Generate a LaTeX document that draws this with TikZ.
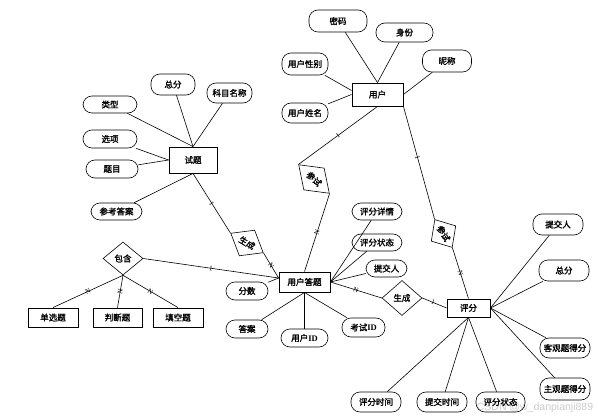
\documentclass[tikz,border=0pt]{standalone}
\usepackage{fontspec}
\setmainfont{Liberation Serif}
\newfontfamily\cjk{Noto Sans CJK SC}[FakeBold=1.6]
\newfontfamily\wmfont{Liberation Sans}
\usetikzlibrary{shapes.geometric}
\tikzset{
  txt/.style={font=\cjk\fontsize{8.5}{10}\selectfont},
  ent/.style={txt, draw, rectangle, line width=0.9pt, inner sep=0pt},
  attr/.style={txt, draw, rectangle, rounded corners=9pt, line width=0.6pt, inner sep=1pt, minimum width=50pt, minimum height=20pt},
  rel/.style={txt, draw, diamond, line width=0.6pt, inner sep=0.5pt},
  con/.style={line width=0.6pt},
  lab/.style={sloped, font=\rmfamily\fontsize{7}{7}\selectfont, inner sep=0pt}
}
\begin{document}
\begin{tikzpicture}[x=1pt,y=-1pt]
\useasboundingbox (0,0) rectangle (598,420);
\fill[white] (0,0) rectangle (598,420);
\node[text=black!20, font=\wmfont\fontsize{10.5}{12}\selectfont] (wm) at (535,408) {CSDN @w\_danpianji889};

% entities
\node[ent, minimum width=51pt, minimum height=23pt] (u) at (377.5,94.5) {用户};
\node[ent, minimum width=48pt, minimum height=26pt] (t) at (193,160) {试题};
\node[ent, minimum width=51pt, minimum height=20pt] (a) at (304.5,282) {用户答题};
\node[ent, minimum width=43pt, minimum height=18pt] (p) at (468.5,308) {评分};
\node[ent, minimum width=50pt, minimum height=19pt] (s1) at (53,317.5) {单选题};
\node[ent, minimum width=49pt, minimum height=19pt] (s2) at (117.5,317.5) {判断题};
\node[ent, minimum width=50pt, minimum height=19pt] (s3) at (178,317.5) {填空题};

% relationships
\node[rel, minimum width=40pt, minimum height=33pt] (bh) at (123,258.5) {包含};
\node[rel, minimum width=40pt, minimum height=35pt] (sc2) at (402,298) {生成};
\node[rel, minimum width=42pt, minimum height=30pt, rotate=-43] (cs1) at (314,179) {参试};
\node[rel, minimum width=33pt, minimum height=29pt, rotate=-58] (cs2) at (443.5,233.5) {参试};
\node[rel, minimum width=38pt, minimum height=30pt, rotate=-31] (sc1) at (247,243) {生成};

% attributes of 用户
\node[attr, minimum width=58pt, minimum height=22pt] (mm) at (338,21) {密码};
\node[attr, minimum width=57pt, minimum height=19pt] (sf) at (404.5,32.5) {身份};
\node[attr, minimum width=49pt, minimum height=22pt] (nc) at (447,61) {昵称};
\node[attr, minimum width=46pt, minimum height=22pt] (xb) at (305,64) {用户性别};
\node[attr, minimum width=46pt, minimum height=20pt] (xm) at (305,113) {用户姓名};

% attributes of 试题
\node[attr, minimum width=44pt, minimum height=21pt] (zf1) at (173,84.5) {总分};
\node[attr, minimum width=45pt, minimum height=20pt] (km) at (229.5,93) {科目名称};
\node[attr, minimum width=54pt, minimum height=17pt] (lx) at (110,104.5) {类型};
\node[attr, minimum width=54pt, minimum height=18pt] (xx) at (110,139) {选项};
\node[attr, minimum width=52pt, minimum height=18pt] (tm) at (112,169) {题目};
\node[attr, minimum width=51pt, minimum height=17pt] (ck) at (116.5,211.5) {参考答案};

% attributes of 用户答题
\node[attr, minimum width=50pt, minimum height=17pt] (xq) at (377,211.5) {评分详情};
\node[attr, minimum width=50pt, minimum height=17pt] (zt1) at (377,242.5) {评分状态};
\node[attr, minimum width=41pt, minimum height=17pt] (tj1) at (386.5,268.5) {提交人};
\node[attr, minimum width=42pt, minimum height=18pt] (fs) at (247,291) {分数};
\node[attr, minimum width=42pt, minimum height=18pt] (da) at (247,329) {答案};
\node[attr, minimum width=47pt, minimum height=18pt] (uid) at (304.5,338) {用户{\rmfamily\bfseries ID}};
\node[attr, minimum width=43pt, minimum height=19pt] (kid) at (363.5,327.5) {考试{\rmfamily\bfseries ID}};

% attributes of 评分
\node[attr, minimum width=50pt, minimum height=21pt] (tj2) at (558,224.5) {提交人};
\node[attr, minimum width=50pt, minimum height=21pt] (zf2) at (564,270.5) {总分};
\node[attr, minimum width=50pt, minimum height=20pt] (kg) at (565,348) {客观题得分};
\node[attr, minimum width=50pt, minimum height=22pt] (zg) at (565,389) {主观题得分};
\node[attr, minimum width=50pt, minimum height=20pt] (sj1) at (376,402) {评分时间};
\node[attr, minimum width=50pt, minimum height=20pt] (sj2) at (442,402) {提交时间};
\node[attr, minimum width=49pt, minimum height=20pt] (zt2) at (500.5,402) {评分状态};

% attribute connectors
\draw[con] (mm) -- (u.north);
\draw[con] (sf) -- (u.north);
\draw[con] (nc) -- (u.east);
\draw[con] (xb) -- ([yshift=4pt]u.west);
\draw[con] (xm) -- (u.west);

\draw[con] (zf1) -- (t.north);
\draw[con] (km) -- (t.north);
\draw[con] (lx) -- (t.north);
\draw[con] (xx) -- (t.west);
\draw[con] (tm) -- (t.west);
\draw[con] (ck) -- (t.south);

\draw[con] (xq) -- (a.east);
\draw[con] (zt1) -- (a.east);
\draw[con] (tj1) -- (a.east);
\draw[con] (fs) -- ([yshift=4pt]a.west);
\draw[con] (da) -- (a.south);
\draw[con] (uid) -- (a.south);
\draw[con] (kid) -- (a.south);

\draw[con] (tj2) -- (p.east);
\draw[con] (zf2) -- (p.east);
\draw[con] (kg) -- (p.east);
\draw[con] (zg) -- (p.east);
\draw[con] (sj1) -- (p.south);
\draw[con] (sj2) -- (p.south);
\draw[con] (zt2) -- (p.south);

% relationship connectors
\draw[con] (u.south) -- node[lab]{1} (cs1.west);
\draw[con] (cs1.east) -- node[lab]{N} (a.north);
\draw[con] (u.south east) -- node[lab, pos=0.45]{1} (cs2.west);
\draw[con] (cs2.east) -- node[lab]{N} (p.north);
\draw[con] (t.south) -- node[lab]{1} (sc1.west);
\draw[con] (sc1.east) -- node[lab]{N} ([yshift=4pt]a.west);
\draw[con] (bh.east) -- node[lab]{1} ([yshift=4pt]a.west);
\draw[con] (a.east) -- node[lab]{N} (sc2.west);
\draw[con] (sc2.east) -- node[lab, pos=0.45]{1} (p.west);
\draw[con] (bh.south) -- node[lab]{N} (s1.north);
\draw[con] (bh.south) -- node[lab]{N} (s2.north);
\draw[con] (bh.south) -- node[lab]{N} (s3.north);
\end{tikzpicture}
\end{document}
